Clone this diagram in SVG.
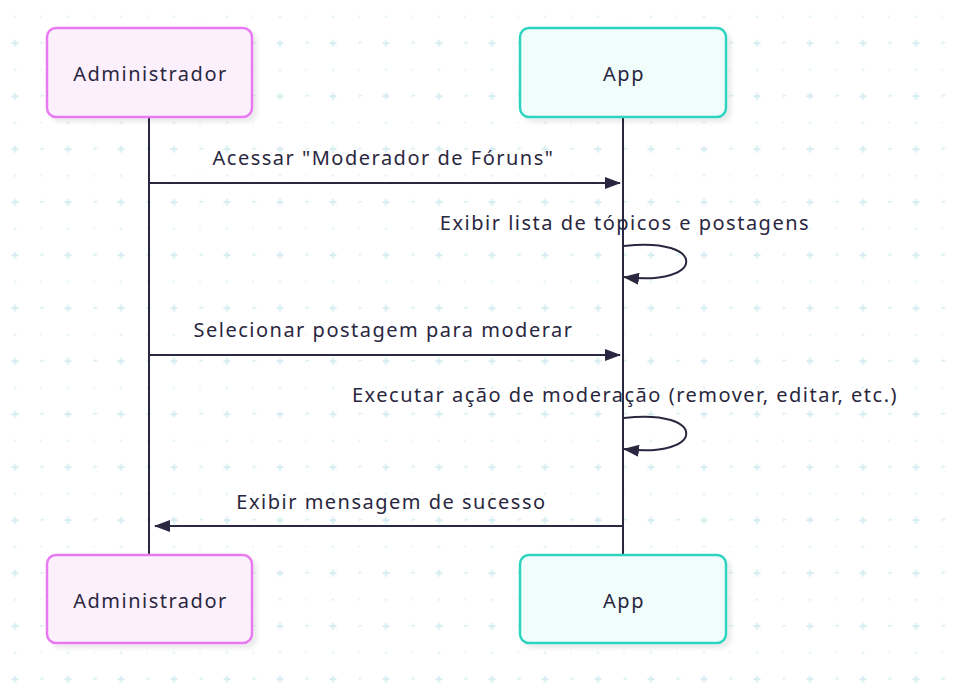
<svg xmlns="http://www.w3.org/2000/svg" width="957" height="693" viewBox="0 0 957 693">
<defs>
<pattern id="grid" x="-11.5" y="-9.8" width="53" height="53" patternUnits="userSpaceOnUse">
<rect x="25.5" y="25.5" width="2" height="2" fill="#d6edf2"/>
<rect x="52" y="25.5" width="2" height="2" fill="#d6edf2"/>
<rect x="25.5" y="52" width="2" height="2" fill="#d6edf2"/>
<rect x="52" y="52" width="2" height="2" fill="#d6edf2"/>
<rect x="25.5" y="-1" width="2" height="2" fill="#d6edf2"/>
<rect x="52" y="-1" width="2" height="2" fill="#d6edf2"/>
<path d="M26.5 49.5v7M23 53h7" stroke="#d6edf2" stroke-width="2" fill="none"/>
<path d="M26.5 -3.5v7M23 0h7" stroke="#d6edf2" stroke-width="2" fill="none"/>
<path d="M-0.5 49.5v7M-4 53h7" stroke="#d6edf2" stroke-width="2" fill="none"/>
</pattern>
<marker id="ah" viewBox="0 0 16 12" refX="15" refY="6" markerWidth="16" markerHeight="12" markerUnits="userSpaceOnUse" orient="auto">
<path d="M0 0L16 6L0 12z" fill="#2a2740"/>
</marker>
<filter id="sh" x="-10%" y="-10%" width="130%" height="130%">
<feDropShadow dx="4" dy="4" stdDeviation="2" flood-color="#000" flood-opacity="0.08"/>
</filter>
</defs>
<style>
.t{font-family:"Noto Sans","Open Sans",sans-serif;font-size:20px;letter-spacing:1.5px;fill:#2a2740;}
.n{text-anchor:middle;dominant-baseline:central;}
.adm{fill:#fdf0fd;stroke:#e879f0;stroke-width:2.5;}
.app{fill:#f0fdfa;stroke:#2dd4bf;stroke-width:2.5;}
.ll{stroke:#2a2740;stroke-width:2;fill:none;}
.msg{stroke:#2a2740;stroke-width:2;fill:none;marker-end:url(#ah);}
</style>
<rect width="957" height="693" fill="#ffffff"/>
<rect width="957" height="693" fill="url(#grid)"/>
<g id="lifelines">
<line class="ll" x1="149" y1="117" x2="149" y2="555"/>
<line class="ll" x1="623" y1="117" x2="623" y2="555"/>
</g>
<g id="admin-top"><rect class="adm" x="47" y="28" width="205" height="89" rx="9" filter="url(#sh)"/><text class="t n" x="150.5" y="73">Administrador</text></g>
<g id="app-top"><rect class="app" x="520" y="28" width="206" height="89" rx="9" filter="url(#sh)"/><text class="t n" x="624" y="73">App</text></g>
<g id="admin-bottom"><rect class="adm" x="47" y="555" width="205" height="88" rx="9" filter="url(#sh)"/><text class="t n" x="150.5" y="600">Administrador</text></g>
<g id="app-bottom"><rect class="app" x="520" y="555" width="206" height="88" rx="9" filter="url(#sh)"/><text class="t n" x="624" y="600">App</text></g>
<g id="connectors">
<line class="msg" x1="150" y1="183" x2="620" y2="183"/>
<path class="msg" d="M624 246C707 236 707 287 624 277"/>
<line class="msg" x1="150" y1="355" x2="620" y2="355"/>
<path class="msg" d="M624 418C707 408 707 459 624 449"/>
<line class="msg" x1="623" y1="526" x2="155" y2="526"/>
</g>
<g id="labels">
<text class="t" x="383.5" y="165" text-anchor="middle">Acessar "Moderador de Fóruns"</text>
<text class="t" x="625" y="230" text-anchor="middle">Exibir lista de tópicos e postagens</text>
<text class="t" x="383.5" y="337" text-anchor="middle">Selecionar postagem para moderar</text>
<text class="t" x="625" y="402" text-anchor="middle">Executar ação de moderação (remover, editar, etc.)</text>
<text class="t" x="391.5" y="509" text-anchor="middle">Exibir mensagem de sucesso</text>
</g>
</svg>
